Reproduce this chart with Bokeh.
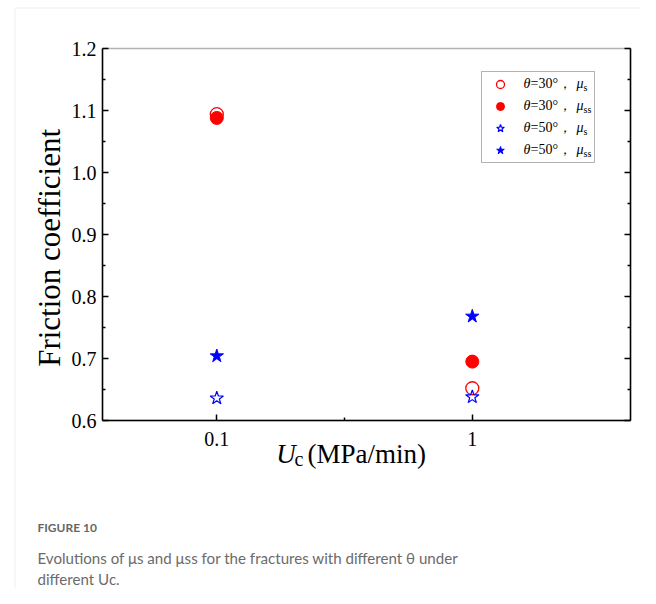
import math
from bokeh.plotting import figure
from bokeh.models import (Range1d, FixedTicker, LinearAxis, LogAxis, Label, Legend, LegendItem,
                          BoxAnnotation, PrintfTickFormatter, CustomJSTickFormatter)
from bokeh.embed import file_html
from bokeh.resources import INLINE

# ---------------- data ----------------
uc = [0.1, 1.0]                      # Uc (MPa/min)
x_ticks = [0.1, 1.0]
x_tick_labels = ["0.1", "1"]
y_ticks = [0.6, 0.7, 0.8, 0.9, 1.0, 1.1, 1.2]

mu_s_30 = [1.094, 0.652]             # theta=30, mu_s
mu_ss_30 = [1.088, 0.695]            # theta=30, mu_ss
mu_s_50 = [0.636, 0.638]             # theta=50, mu_s
mu_ss_50 = [0.704, 0.768]            # theta=50, mu_ss

legend_theta = ["30°", "30°", "50°", "50°"]
legend_sub = ["s", "ss", "s", "ss"]

caption_title = "FIGURE 10"
caption_lines = ["Evolutions of μs and μss for the fractures with different θ under",
                 "different Uc."]

SERIF = "Liberation Serif"
SANS = "Lato"

# ---------------- layout (pixels) ----------------
W, H = 640, 588
PL, PR, PT, PB = 102, 630, 48, 420      # plot box in canvas pixels
X01, DEC = 216.3, 255.5                 # pixel of x=0.1, pixels per decade
BASE_SHIFT = 0.31                       # renderer's baseline offset (em)

y_lo, y_hi = y_ticks[0], y_ticks[-1]
ppu = (PB - PT) / (y_hi - y_lo)
x_lo = 10 ** (math.log10(x_ticks[0]) - (X01 - PL) / DEC)
x_hi = 10 ** (math.log10(x_ticks[0]) + (PR - X01) / DEC)

p = figure(width=W, height=H, x_axis_type="log",
           x_range=Range1d(10 ** (math.log10(x_ticks[0]) - X01 / DEC),
                           10 ** (math.log10(x_ticks[0]) + (W - X01) / DEC)),
           y_range=Range1d(y_lo - (H - PB) / ppu, y_hi + PT / ppu),
           x_axis_location=None, y_axis_location=None,
           output_backend="svg", toolbar_location=None, title=None,
           min_border=0, min_border_left=0, min_border_right=0,
           min_border_top=0, min_border_bottom=0)
p.xgrid.visible = False
p.ygrid.visible = False
p.outline_line_color = None
p.background_fill_color = "white"
p.border_fill_color = "white"

def S(y_page):
    return H - y_page

def B(y_page, fs):
    # canvas y for a text whose baseline should sit at page y
    return H - y_page + BASE_SHIFT * fs

# ---------------- card border ----------------
p.add_layout(BoxAnnotation(left=14.5, right=W + 60, top=S(7.5), bottom=-60,
                           left_units="screen", right_units="screen",
                           top_units="screen", bottom_units="screen",
                           fill_alpha=0, line_color="#c8c8c8", line_width=1,
                           level="underlay"))

# ---------------- axes ----------------
minor_y = [round(t + 0.05, 2) for t in y_ticks[:-1]]
left = LinearAxis(fixed_location=x_lo, bounds=(y_lo, y_hi),
                  ticker=FixedTicker(ticks=y_ticks, minor_ticks=minor_y),
                  formatter=PrintfTickFormatter(format="%.1f"))
right = LinearAxis(fixed_location=x_hi, bounds=(y_lo, y_hi),
                   ticker=FixedTicker(ticks=y_ticks, minor_ticks=minor_y),
                   formatter=CustomJSTickFormatter(code="return ''"))
bottom = LogAxis(fixed_location=y_lo, bounds=(x_lo, x_hi),
                 ticker=FixedTicker(ticks=x_ticks,
                                    minor_ticks=[math.sqrt(x_ticks[0] * x_ticks[1])]))
bottom.major_label_overrides = {t: s for t, s in zip(x_ticks, x_tick_labels)}
p.add_layout(left, "left")
p.add_layout(right, "right")
p.add_layout(bottom, "below")

for ax in (left, right, bottom):
    ax.major_tick_in = 6
    ax.major_tick_out = 0
    ax.minor_tick_in = 3
    ax.minor_tick_out = 0
    ax.axis_line_width = 1.5
    ax.major_tick_line_width = 1.5
    ax.minor_tick_line_width = 1.5
    ax.axis_line_color = "black"
    ax.major_tick_line_color = "black"
    ax.minor_tick_line_color = "black"
    ax.major_label_text_font = SERIF
    ax.major_label_text_font_size = "20px"
    ax.major_label_text_color = "black"
left.major_label_standoff = 6
bottom.major_label_standoff = 11

# plot box outline (top edge)
p.add_layout(BoxAnnotation(left=x_lo, right=x_hi, bottom=y_lo, top=y_hi,
                           fill_alpha=0, line_color="black", line_width=1.5,
                           level="underlay"))

# ---------------- data marks ----------------
r1 = p.scatter(uc, mu_s_30, marker="circle", size=13, line_color="red",
               fill_color=None, line_width=1.3)
r2 = p.scatter(uc, mu_ss_30, marker="circle", size=13, fill_color="red",
               line_color="red")
r3 = p.scatter(uc, mu_s_50, marker="star", size=14, line_color="blue",
               fill_color=None, line_width=1.2)
r4 = p.scatter(uc, mu_ss_50, marker="star", size=14, fill_color="blue",
               line_color="blue")

# ---------------- legend ----------------
p.add_layout(BoxAnnotation(left=481, right=594, bottom=S(162), top=S(71),
                           left_units="screen", right_units="screen",
                           top_units="screen", bottom_units="screen",
                           fill_color="white", fill_alpha=1, line_color="black",
                           line_width=1))
legend = Legend(items=[LegendItem(label=" ", renderers=[r]) for r in (r1, r2, r3, r4)],
                location=(481, S(160)), padding=2, spacing=2, glyph_height=20,
                glyph_width=38, label_height=20, label_standoff=0,
                border_line_color=None, background_fill_alpha=0, margin=0,
                label_text_font_size="1px")
p.add_layout(legend)

row_base = [87.3, 109.3, 131.8, 153.8]
for yb, th, sub in zip(row_base, legend_theta, legend_sub):
    common = dict(x_units="screen", y_units="screen", text_font=SERIF,
                  text_color="black", text_baseline="alphabetic")
    p.add_layout(Label(x=523, y=B(yb, 14), text="θ", text_font_style="italic",
                       text_font_size="14px", **common))
    p.add_layout(Label(x=530, y=B(yb, 14), text="=" + th + "，", text_font_size="14px",
                       **common))
    p.add_layout(Label(x=576, y=B(yb, 14), text="μ", text_font_style="italic",
                       text_font_size="14px", **common))
    p.add_layout(Label(x=583, y=B(yb + 2.5, 10), text=sub, text_font_size="10px", **common))

# ---------------- axis titles ----------------
tcommon = dict(x_units="screen", y_units="screen", text_font=SERIF,
               text_color="black", text_baseline="alphabetic")
p.add_layout(Label(x=58.3 - BASE_SHIFT * 31, y=S(247.4), text="Friction coefficient",
                   angle=math.pi / 2, text_font_size="31px", text_align="center",
                   **tcommon))
p.add_layout(Label(x=275.7, y=B(461.7, 27), text="U", text_font_style="italic",
                   text_font_size="27px", **tcommon))
p.add_layout(Label(x=294, y=B(464.5, 20), text="c", text_font_size="20px", **tcommon))
p.add_layout(Label(x=307, y=B(461.7, 27), text="(MPa/min)", text_font_size="27px",
                   **tcommon))

# ---------------- caption ----------------
p.add_layout(Label(x=37, y=B(531.2, 12), x_units="screen", y_units="screen",
                   text=caption_title, text_font=SANS, text_font_style="bold",
                   text_font_size="12px", text_color="#666666",
                   text_baseline="alphabetic"))
for i, line in enumerate(caption_lines):
    p.add_layout(Label(x=37, y=B(562.3 + 20.7 * i, 15), x_units="screen", y_units="screen",
                       text=line, text_font=SANS, text_font_size="15.1px",
                       text_color="#6b6b6b", text_baseline="alphabetic"))

open("out.html", "w").write(file_html(p, INLINE))
